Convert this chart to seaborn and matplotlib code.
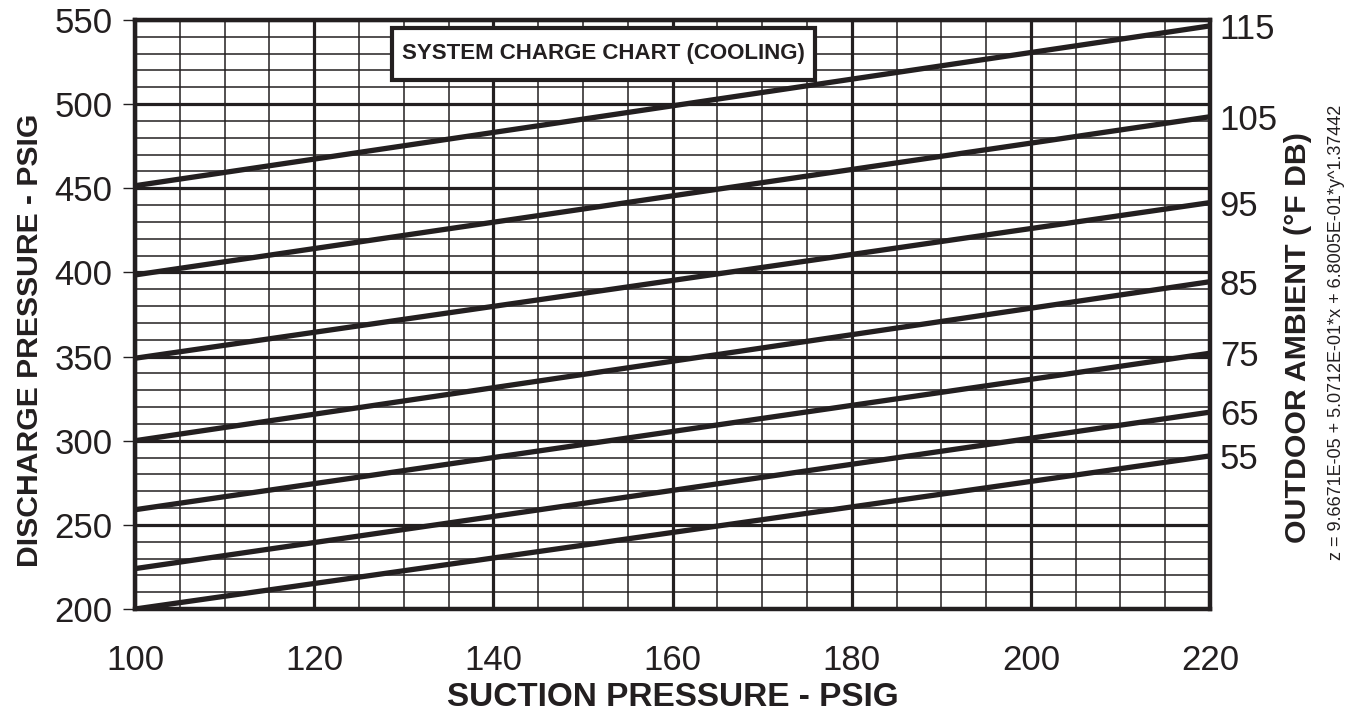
#!/usr/bin/env python3
import matplotlib
matplotlib.use('Agg')
import matplotlib.pyplot as plt
from matplotlib.patches import Rectangle
import seaborn as sns
import pandas as pd
import numpy as np

# ---- data ----
ambient_f = [115, 105, 95, 85, 75, 65, 55]          # outdoor ambient (°F DB)
suction_ends = [100, 220]                            # suction pressure (psig)
discharge_at_100 = [451.5, 398.5, 349, 300, 259, 224, 200]
discharge_at_220 = [546.5, 492.5, 441.5, 394.5, 352, 317, 291]

x_ticks = [100, 120, 140, 160, 180, 200, 220]
y_ticks = [200, 250, 300, 350, 400, 450, 500, 550]

INK = '#231f20'

rows = []
for t, y0, y1 in zip(ambient_f, discharge_at_100, discharge_at_220):
    rows.append({'suction': suction_ends[0], 'discharge': y0, 'ambient': t})
    rows.append({'suction': suction_ends[1], 'discharge': y1, 'ambient': t})
df = pd.DataFrame(rows)

sns.set_style("white")
plt.rcParams['font.family'] = ['Liberation Sans', 'DejaVu Sans']

fig = plt.figure(figsize=(13.51, 7.21), dpi=100)
ax = fig.add_axes([0.0999, 0.1553, 0.7958, 0.817])

# grid: every 5 psig across, every 10 psig up, heavier on the labelled values
ax.set_xticks(x_ticks)
ax.set_xticks(np.arange(100, 221, 5), minor=True)
ax.set_yticks(y_ticks)
ax.set_yticks(np.arange(200, 551, 10), minor=True)
ax.grid(True, which='minor', color=INK, linewidth=1.1)
ax.grid(True, which='major', color=INK, linewidth=2.3)
ax.set_axisbelow(True)

sns.lineplot(data=df, x='suction', y='discharge', hue='ambient',
             palette=[INK] * len(ambient_f), linewidth=3.8, legend=False,
             ax=ax, zorder=3)

ax.set_xlim(100, 220)
ax.set_ylim(200, 550)

for s in ax.spines.values():
    s.set_linewidth(3.2)
    s.set_color(INK)

ax.tick_params(which='major', direction='out', length=9, width=1, color=INK,
               labelsize=25, labelcolor=INK)
ax.tick_params(axis='x', which='major', pad=16)
ax.tick_params(axis='y', which='major', pad=7)
ax.tick_params(which='minor', length=0)

ax.set_xlabel('SUCTION PRESSURE - PSIG', fontsize=24, fontweight='bold',
              color=INK)
ax.xaxis.set_label_coords(0.5, -0.151)
ax.xaxis.label.set_verticalalignment('center')
ax.set_ylabel('DISCHARGE PRESSURE - PSIG', fontsize=21.7, fontweight='bold',
              color=INK)
ax.yaxis.set_label_coords(-0.0977, 0.457)
ax.yaxis.label.set_verticalalignment('center')

# right axis: ambient temperature labels at the line ends
ax2 = ax.twinx()
ax2.set_ylim(ax.get_ylim())
ax2.set_yticks(discharge_at_220)
ax2.set_yticklabels([str(t) for t in ambient_f])
ax2.tick_params(axis='y', length=0, pad=7, labelsize=25, labelcolor=INK)
for lab in ax2.get_yticklabels():
    lab.set_verticalalignment('center_baseline')
for s in ax2.spines.values():
    s.set_visible(False)

fig.text(0.9608, 0.532, 'OUTDOOR AMBIENT (°F DB)', rotation=90, fontsize=21.8,
         fontweight='bold', color=INK, ha='center', va='center')
fig.text(0.989, 0.539, 'z = 9.6671E-05 + 5.0712E-01*x + 6.8005E-01*y^1.37442',
         rotation=90, fontsize=13, color=INK, ha='center', va='center')

# boxed chart caption
ax.add_patch(Rectangle((0.239, 0.898), 0.3936, 0.0884, transform=ax.transAxes,
                       facecolor='white', edgecolor=INK, linewidth=3,
                       zorder=5))
ax.text(0.4358, 0.9423, 'SYSTEM CHARGE CHART (COOLING)',
        transform=ax.transAxes, fontsize=16, fontweight='bold', color=INK,
        ha='center', va='center', zorder=6)

fig.savefig('out.png', dpi=100, facecolor='white')
plt.close(fig)
